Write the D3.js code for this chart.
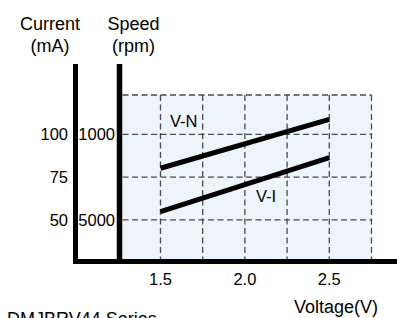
<!DOCTYPE html>
<html><head><meta charset="utf-8">
<script src="https://cdn.jsdelivr.net/npm/d3@7"></script>
<style>
html,body{margin:0;padding:0;background:#fff;}
svg{display:block;font-family:"Liberation Sans",Arial,Helvetica,sans-serif;}
</style></head>
<body><svg id="c" width="397" height="318"></svg>
<script>
// ---- data ----
const voltageTicks = [1.5, 2.0, 2.5];
const voltageGrid = [1.5, 1.75, 2.0, 2.25, 2.5, 2.75];
const currentTicks = [50, 75, 100];
const speedTicks = [1000, 5000];
const seriesNames = ["V-N", "V-I"];
const voltages = [1.5, 2.5];
const vnValues = [80.2, 108.8];   // plotted on current scale
const viValues = [54.8, 86.4];    // current (mA)

// ---- layout ----
const svg = d3.select("#c");
const x = d3.scaleLinear().domain([1.275, 2.75]).range([122.5, 371.5]);
const y = d3.scaleLinear().domain([26, 123]).range([261, 95]);
const ySpeed = d3.scaleLinear().domain([5000, 1000]).range([y(50), y(100)]);

const fs = 16.5, tfs = 18;

// background
svg.append("rect").attr("x", x(1.275)).attr("y", y(123))
  .attr("width", x(2.75) - x(1.275)).attr("height", y(26) - y(123))
  .attr("fill", "#eef4fb");

// grid
const dash = "6,3.5";
const gridColor = "#4a4a4a";
svg.append("g").selectAll("line").data(voltageGrid).join("line")
  .attr("x1", d => x(d)).attr("x2", d => x(d))
  .attr("y1", y(123)).attr("y2", y(26))
  .attr("stroke", gridColor).attr("stroke-width", 1.3).attr("stroke-dasharray", dash);
svg.append("g").selectAll("line").data(currentTicks.concat([123])).join("line")
  .attr("x1", x(1.275)).attr("x2", x(2.75))
  .attr("y1", d => y(d)).attr("y2", d => y(d))
  .attr("stroke", gridColor).attr("stroke-width", 1.3).attr("stroke-dasharray", dash);

// axes lines
svg.append("line").attr("x1", 75.5).attr("x2", 75.5).attr("y1", 64).attr("y2", 263)
  .attr("stroke", "#000").attr("stroke-width", 5);
svg.append("line").attr("x1", 119.5).attr("x2", 119.5).attr("y1", 64).attr("y2", 263)
  .attr("stroke", "#000").attr("stroke-width", 5.5);
svg.append("line").attr("x1", 73).attr("x2", 397).attr("y1", 261.5).attr("y2", 261.5)
  .attr("stroke", "#000").attr("stroke-width", 5);

// series lines
const line = d3.line().x(d => x(d[0])).y(d => y(d[1]));
[vnValues, viValues].forEach(vals => {
  svg.append("path").datum(voltages.map((v, i) => [v, vals[i]]))
    .attr("d", line).attr("fill", "none").attr("stroke", "#000").attr("stroke-width", 5);
});

// series labels
svg.append("text").attr("x", 170).attr("y", 127).attr("font-size", fs).text(seriesNames[0]);
svg.append("text").attr("x", 256).attr("y", 201.5).attr("font-size", fs).text(seriesNames[1]);

// tick labels
svg.append("g").selectAll("text").data(currentTicks).join("text")
  .attr("x", 68).attr("y", d => y(d)).attr("dy", "0.36em")
  .attr("text-anchor", "end").attr("font-size", fs).text(d => d);
svg.append("g").selectAll("text").data(speedTicks).join("text")
  .attr("x", 115).attr("y", d => ySpeed(d)).attr("dy", "0.36em")
  .attr("text-anchor", "end").attr("font-size", fs).text(d => d);
svg.append("g").selectAll("text").data(voltageTicks).join("text")
  .attr("x", d => x(d)).attr("y", 285)
  .attr("text-anchor", "middle").attr("font-size", fs).text(d => d.toFixed(1));

// titles
const title = (t, cx, cy) => svg.append("text").attr("x", cx).attr("y", cy)
  .attr("text-anchor", "middle").attr("font-size", tfs).text(t);
title("Current", 50, 29.5);
title("(mA)", 50, 52);
title("Speed", 133.5, 29.5);
title("(rpm)", 133.5, 52);
title("Voltage(V)", 336, 313);
svg.append("text").attr("x", 7).attr("y", 325).attr("font-size", tfs).text("DMJBRV44 Series");
</script></body></html>
